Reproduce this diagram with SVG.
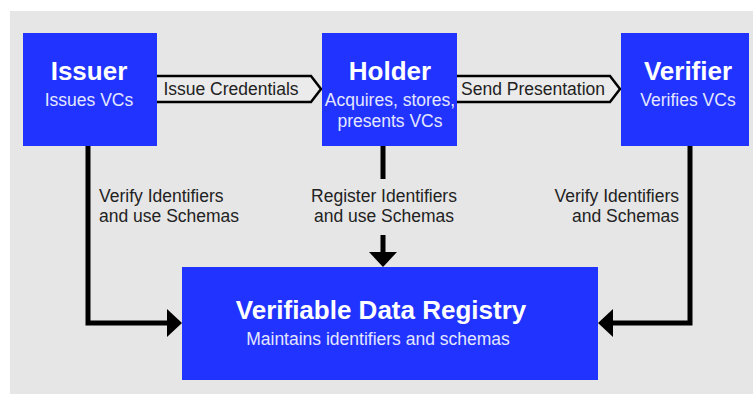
<svg xmlns="http://www.w3.org/2000/svg" width="753" height="394" viewBox="0 0 753 394">
  <style>
    .node { fill: #2033ff; }
    .title { font-family: "Liberation Sans", Arial, sans-serif; font-weight: bold; font-size: 26px; fill: #ffffff; text-anchor: middle; }
    .sub { font-family: "Liberation Sans", Arial, sans-serif; font-size: 17.5px; fill: #e4e7ff; text-anchor: middle; }
    .label { font-family: "Liberation Sans", Arial, sans-serif; font-size: 17.5px; fill: #222222; }
    .wire { fill: none; stroke: #000000; stroke-width: 5; stroke-linejoin: miter; }
    .chevron { fill: #ebebeb; stroke: #000000; stroke-width: 2.5; stroke-linejoin: miter; }
  </style>
  <defs>
    <marker id="arrow" viewBox="0 0 15 28" refX="0" refY="14" markerWidth="15" markerHeight="28" markerUnits="userSpaceOnUse" orient="auto">
      <path d="M0,0 L15,14 L0,28 Z" fill="#000000"/>
    </marker>
  </defs>

  <!-- backdrop -->
  <rect x="10" y="11" width="743" height="383" fill="#e6e6e6"/>

  <!-- connectors -->
  <g id="connectors">
    <g id="issue-credentials">
      <path class="chevron" d="M157,76 H311 L321,89 L311,102 H157"/>
      <text class="label" x="231" y="95" text-anchor="middle">Issue Credentials</text>
    </g>
    <g id="send-presentation">
      <path class="chevron" d="M457,76 H610 L620,89 L610,102 H457"/>
      <text class="label" x="533" y="95" text-anchor="middle">Send Presentation</text>
    </g>
    <g id="issuer-registry">
      <path class="wire" d="M88,146 V323 H167" marker-end="url(#arrow)"/>
      <text class="label" x="99" y="202">Verify Identifiers</text>
      <text class="label" x="99" y="222">and use Schemas</text>
    </g>
    <g id="holder-registry">
      <path class="wire" d="M383,146 V179"/>
      <path class="wire" d="M383,235 V252" marker-end="url(#arrow)"/>
      <text class="label" x="384" y="202" text-anchor="middle">Register Identifiers</text>
      <text class="label" x="384" y="222" text-anchor="middle">and use Schemas</text>
    </g>
    <g id="verifier-registry">
      <path class="wire" d="M690,146 V323 H613" marker-end="url(#arrow)"/>
      <text class="label" x="679" y="202" text-anchor="end">Verify Identifiers</text>
      <text class="label" x="679" y="222" text-anchor="end">and Schemas</text>
    </g>
  </g>

  <!-- nodes -->
  <g id="issuer">
    <rect class="node" x="23" y="33" width="134" height="113"/>
    <text class="title" x="89" y="80">Issuer</text>
    <text class="sub" x="89" y="106">Issues VCs</text>
  </g>
  <g id="holder">
    <rect class="node" x="322" y="33" width="135" height="113"/>
    <text class="title" x="390" y="80">Holder</text>
    <text class="sub" x="390" y="106">Acquires, stores,</text>
    <text class="sub" x="390" y="127">presents VCs</text>
  </g>
  <g id="verifier">
    <rect class="node" x="621" y="33" width="128" height="113"/>
    <text class="title" x="688" y="80">Verifier</text>
    <text class="sub" x="688" y="106">Verifies VCs</text>
  </g>
  <g id="registry">
    <rect class="node" x="182" y="267" width="416" height="113"/>
    <text class="title" x="381" y="319">Verifiable Data Registry</text>
    <text class="sub" x="378" y="345">Maintains identifiers and schemas</text>
  </g>
</svg>
